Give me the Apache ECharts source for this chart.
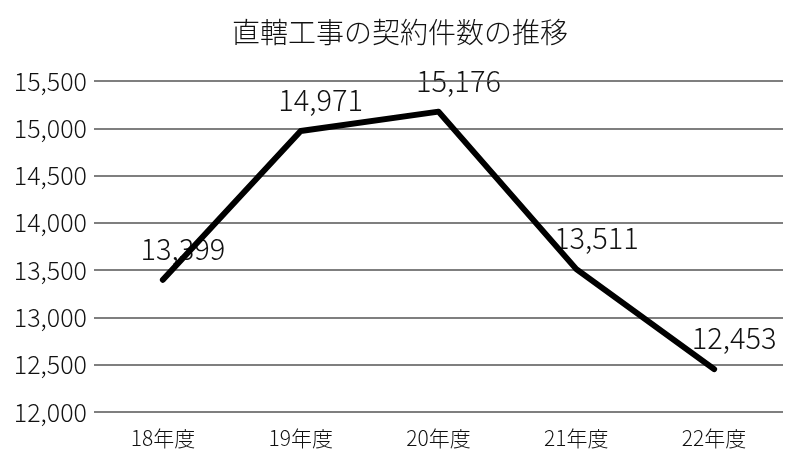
<!DOCTYPE html>
<html><head><meta charset="utf-8">
<script src="https://cdn.jsdelivr.net/npm/echarts@6/dist/echarts.min.js"></script>
<style>html,body{margin:0;padding:0;background:#fff}#c{width:800px;height:461px}</style>
</head><body><div id="c"></div>
<script>
const title = '直轄工事の契約件数の推移';
const categories = ['18年度', '19年度', '20年度', '21年度', '22年度'];
const values = [13399, 14971, 15176, 13511, 12453];
const yTicks = [12000, 12500, 13000, 13500, 14000, 14500, 15000, 15500];

const font = '"Noto Sans CJK JP", "Noto Sans", sans-serif';
const fmt = v => v.toLocaleString('en-US');
const chart = echarts.init(document.getElementById('c'), null, {renderer: 'canvas'});
chart.setOption({
  animation: false,
  backgroundColor: '#fff',
  title: {
    text: title, left: 'center', top: 13,
    textStyle: {fontFamily: font, fontSize: 28, fontWeight: 300, color: '#111'}
  },
  grid: {left: 94, right: 17, top: 81, bottom: 49},
  xAxis: {
    type: 'category', data: categories, boundaryGap: true,
    axisLine: {show: false}, axisTick: {show: false},
    axisLabel: {fontFamily: font, fontSize: 21, fontWeight: 300, color: '#111', margin: 16}
  },
  yAxis: {
    type: 'value', min: yTicks[0], max: yTicks[yTicks.length - 1], interval: 500,
    axisLine: {show: false}, axisTick: {show: false},
    axisLabel: {fontFamily: font, fontSize: 25, fontWeight: 300, color: '#111', margin: 7, formatter: fmt},
    splitLine: {lineStyle: {color: '#555', width: 1.5}}
  },
  series: [{
    type: 'line', data: values, symbol: 'circle', symbolSize: 1, showSymbol: true,
    z: -1,
    itemStyle: {color: 'rgba(0,0,0,0)'},
    lineStyle: {color: 'rgba(0,0,0,0)', width: 0},
    label: {
      show: true, position: 'top', distance: 16, offset: [20, 0],
      fontFamily: font, fontSize: 29, fontWeight: 300, color: '#111', formatter: p => fmt(p.value)
    }
  }, {
    type: 'line', data: values, symbol: 'none', z: 3,
    lineStyle: {color: '#000', width: 6, cap: 'round', join: 'round'}
  }]
});
</script></body></html>
